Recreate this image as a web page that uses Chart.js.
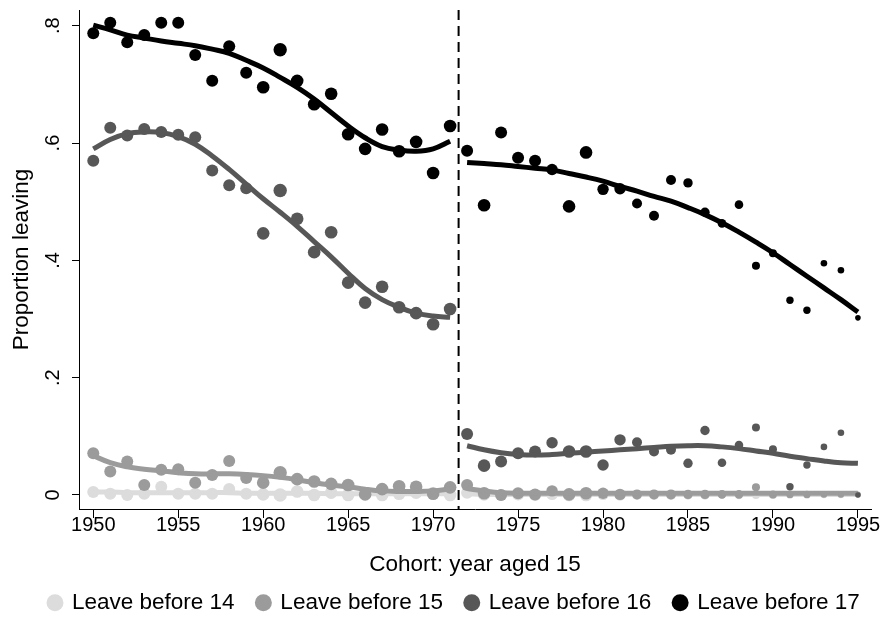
<!DOCTYPE html>
<html>
<head>
<meta charset="utf-8">
<script src="https://cdn.jsdelivr.net/npm/chart.js@4/dist/chart.umd.min.js"></script>
<style>
html,body{margin:0;padding:0;background:#ffffff;}
#wrap{width:884px;height:624px;}
</style>
</head>
<body>
<div id="wrap"><canvas id="c" width="884" height="624"></canvas></div>
<script>
// ---------- DATA ----------
const cohorts = [1950,1951,1952,1953,1954,1955,1956,1957,1958,1959,1960,1961,1962,1963,1964,1965,1966,1967,1968,1969,1970,1971,
                 1972,1973,1974,1975,1976,1977,1978,1979,1980,1981,1982,1983,1984,1985,1986,1987,1988,1989,1990,1991,1992,1993,1994,1995];
const cohortsBefore = [1950,1951,1952,1953,1954,1955,1956,1957,1958,1959,1960,1961,1962,1963,1964,1965,1966,1967,1968,1969,1970,1971];
const cohortsAfter = [1972,1973,1974,1975,1976,1977,1978,1979,1980,1981,1982,1983,1984,1985,1986,1987,1988,1989,1990,1991,1992,1993,1994,1995];
const seriesNames = ["Leave before 14","Leave before 15","Leave before 16","Leave before 17"];

// observed proportions by cohort
const leave14 = [0.005,0.002,0.000,0.002,0.014,0.002,0.002,0.002,0.010,0.002,0.001,0.000,0.006,0.000,0.004,0.000,0.003,0.000,0.002,0.004,0.003,0.000,
                 0.004,0.001,0.000,0.001,0.000,0.001,0.000,0.000,0.001,0.000,0.000,0.000,0.000,0.000,0.000,0.001,0.000,0.000,0.000,0.000,0.000,0.000,0.000,0.000];
const leave15 = [0.071,0.040,0.057,0.017,0.043,0.044,0.021,0.034,0.058,0.029,0.021,0.038,0.027,0.023,0.019,0.017,0.001,0.010,0.015,0.014,0.002,0.013,
                 0.017,0.003,0.000,0.003,0.001,0.007,0.001,0.003,0.003,0.001,0.001,0.001,0.001,0.001,0.001,0.001,0.001,0.013,0.001,0.001,0.001,0.001,0.001,0.001];
const leave16 = [0.570,0.626,0.613,0.624,0.619,0.614,0.610,0.553,0.528,0.523,0.446,0.519,0.471,0.414,0.448,0.362,0.328,0.355,0.320,0.310,0.291,0.317,
                 0.104,0.050,0.057,0.071,0.074,0.089,0.074,0.074,0.051,0.094,0.090,0.074,0.077,0.054,0.110,0.055,0.085,0.115,0.078,0.014,0.051,0.082,0.106,0.000];
const leave17 = [0.787,0.805,0.772,0.784,0.805,0.805,0.750,0.706,0.765,0.720,0.695,0.759,0.706,0.666,0.684,0.615,0.590,0.623,0.586,0.602,0.549,0.629,
                 0.587,0.494,0.618,0.575,0.570,0.555,0.492,0.584,0.521,0.522,0.497,0.476,0.537,0.532,0.482,0.463,0.495,0.391,0.412,0.332,0.315,0.395,0.383,0.302];

// smoothed fits, before and after the break
const fit14Before = [0.005,0.005,0.004,0.004,0.004,0.004,0.004,0.004,0.004,0.003,0.003,0.003,0.003,0.003,0.002,0.002,0.002,0.002,0.002,0.002,0.002,0.002];
const fit14After  = [0.002,0.001,0.001,0.001,0.001,0.001,0.001,0.001,0.001,0.001,0.001,0.001,0.001,0.001,0.001,0.001,0.001,0.001,0.001,0.001,0.001,0.001,0.001,0.001];
const fit15Before = [0.067,0.055,0.048,0.044,0.041,0.038,0.036,0.036,0.036,0.035,0.033,0.030,0.026,0.021,0.017,0.014,0.010,0.007,0.006,0.006,0.007,0.010];
const fit15After  = [0.011,0.007,0.004,0.003,0.003,0.003,0.003,0.003,0.003,0.003,0.003,0.003,0.003,0.003,0.003,0.003,0.003,0.003,0.003,0.003,0.003,0.003,0.003,0.003];
const fit16Before = [0.590,0.606,0.616,0.619,0.618,0.611,0.598,0.578,0.555,0.530,0.505,0.482,0.458,0.432,0.406,0.378,0.352,0.333,0.320,0.310,0.305,0.303];
const fit16After  = [0.084,0.077,0.072,0.069,0.068,0.069,0.071,0.073,0.075,0.077,0.079,0.081,0.083,0.084,0.084,0.082,0.079,0.075,0.071,0.066,0.062,0.058,0.055,0.054];
const fit17Before = [0.801,0.793,0.784,0.779,0.774,0.770,0.766,0.760,0.753,0.741,0.728,0.712,0.695,0.675,0.652,0.629,0.609,0.594,0.588,0.586,0.590,0.603];
const fit17After  = [0.567,0.565,0.563,0.560,0.557,0.554,0.548,0.542,0.535,0.526,0.518,0.509,0.501,0.490,0.478,0.464,0.448,0.431,0.413,0.393,0.373,0.353,0.333,0.312];

const breakYear = 1971.5;
const xTickValues = [1950,1955,1960,1965,1970,1975,1980,1985,1990,1995];
const yTickValues = [0,0.2,0.4,0.6,0.8];
const yTickLabels = ["0",".2",".4",".6",".8"];

// ---------- STYLE ----------
const markerRadius = [6,6,6,6,6,6,6,6,6,6,6.3,6.7,6.3,6.3,6.3,6.3,6.3,6.3,6.3,6.3,6.3,6.3,
                      6,6.3,6,6,6,5.7,6.3,6.3,5.7,5.7,5,5,5,4.7,4.7,4.3,4.3,4,4,3.7,3.7,3.3,3.3,2.8];
const colors = ["#dcdcdc","#9b9b9b","#575757","#000000"];
const FONT = "'Liberation Sans', Arial, Helvetica, sans-serif";
const TICK_SIZE = 20;
const X_MIN = 1949.16, X_MAX = 1995.77, Y_MIN = -0.0239, Y_MAX = 0.8268;

const toXY = (xs, ys) => xs.map((x, i) => ({x: x, y: ys[i]}));
const observed = [leave14, leave15, leave16, leave17];
const fitsBefore = [fit14Before, fit15Before, fit16Before, fit17Before];
const fitsAfter = [fit14After, fit15After, fit16After, fit17After];

const datasets = [];
datasets.push({
  label: 'break', data: [{x: breakYear, y: Y_MAX}, {x: breakYear, y: Y_MIN}],
  showLine: true, borderColor: '#000', borderWidth: 2, borderDash: [10, 6],
  pointRadius: 0, order: 0
});
for (let s = 3; s >= 0; s--) {
  const base = (3 - s) * 2 + 1;
  const lineStyle = {showLine: true, borderColor: colors[s], borderWidth: 5, pointRadius: 0,
                     tension: 0.4, borderCapStyle: 'butt', fill: false};
  datasets.push(Object.assign({label: seriesNames[s] + ' fit a', data: toXY(cohortsBefore, fitsBefore[s]), order: base}, lineStyle));
  datasets.push(Object.assign({label: seriesNames[s] + ' fit b', data: toXY(cohortsAfter, fitsAfter[s]), order: base}, lineStyle));
  datasets.push({
    label: seriesNames[s], data: toXY(cohorts, observed[s]), showLine: false,
    backgroundColor: colors[s], borderColor: colors[s], borderWidth: 0,
    pointRadius: markerRadius, pointHoverRadius: markerRadius, order: base + 1
  });
}

Chart.defaults.font.family = FONT;
Chart.defaults.color = '#000';

const legendShift = {
  id: 'legendShift',
  afterLayout(chart) {
    if (chart.legend) { chart.legend.left += 19; chart.legend.right += 19; }
  }
};

new Chart(document.getElementById('c'), {
  type: 'scatter',
  data: {datasets: datasets},
  plugins: [legendShift],
  options: {
    responsive: false,
    animation: false,
    events: [],
    layout: {padding: {top: 10, right: 13, left: 0, bottom: 0}},
    plugins: {
      tooltip: {enabled: false},
      legend: {
        position: 'bottom',
        align: 'center',
        labels: {
          usePointStyle: true,
          boxWidth: 11.5, boxHeight: 12,
          padding: 23,
          font: {size: 22.5, family: FONT},
          color: '#000',
          generateLabels: () => seriesNames.map((n, i) => ({
            text: n, fillStyle: colors[i], strokeStyle: colors[i], lineWidth: 0,
            pointStyle: 'circle', hidden: false, fontColor: '#000'
          }))
        }
      }
    },
    scales: {
      x: {
        type: 'linear', min: X_MIN, max: X_MAX,
        afterBuildTicks: (sc) => { sc.ticks = xTickValues.map(v => ({value: v})); },
        afterFit: (sc) => { sc.height = 59.5; sc.paddingLeft = 0; sc.paddingRight = 0; },
        ticks: {font: {size: TICK_SIZE, family: FONT, lineHeight: 1}, padding: -3, maxRotation: 0, minRotation: 0,
                callback: (v) => String(v), color: '#000'},
        grid: {display: true, drawOnChartArea: false, drawTicks: true, tickLength: 9, color: '#000', lineWidth: 1},
        border: {display: true, color: '#000', width: 1},
        title: {display: true, text: 'Cohort: year aged 15', font: {size: 22.5, family: FONT}, color: '#000',
                padding: {top: 0, bottom: -10}}
      },
      y: {
        type: 'linear', min: Y_MIN, max: Y_MAX,
        afterBuildTicks: (sc) => { sc.ticks = yTickValues.map(v => ({value: v})); },
        afterFit: (sc) => { sc.width = 79; sc.paddingTop = 0; sc.paddingBottom = 0; },
        ticks: {font: {size: TICK_SIZE, family: FONT}, padding: 10, minRotation: 90, maxRotation: 90,
                crossAlign: 'center',
                callback: (v, i) => yTickLabels[i], color: '#000'},
        grid: {display: true, drawOnChartArea: false, drawTicks: true, tickLength: 7, color: '#000', lineWidth: 1},
        border: {display: true, color: '#000', width: 1},
        title: {display: true, text: 'Proportion leaving', font: {size: 22.5, family: FONT}, color: '#000',
                padding: {top: 8, bottom: 0}}
      }
    }
  }
});
</script>
</body>
</html>
